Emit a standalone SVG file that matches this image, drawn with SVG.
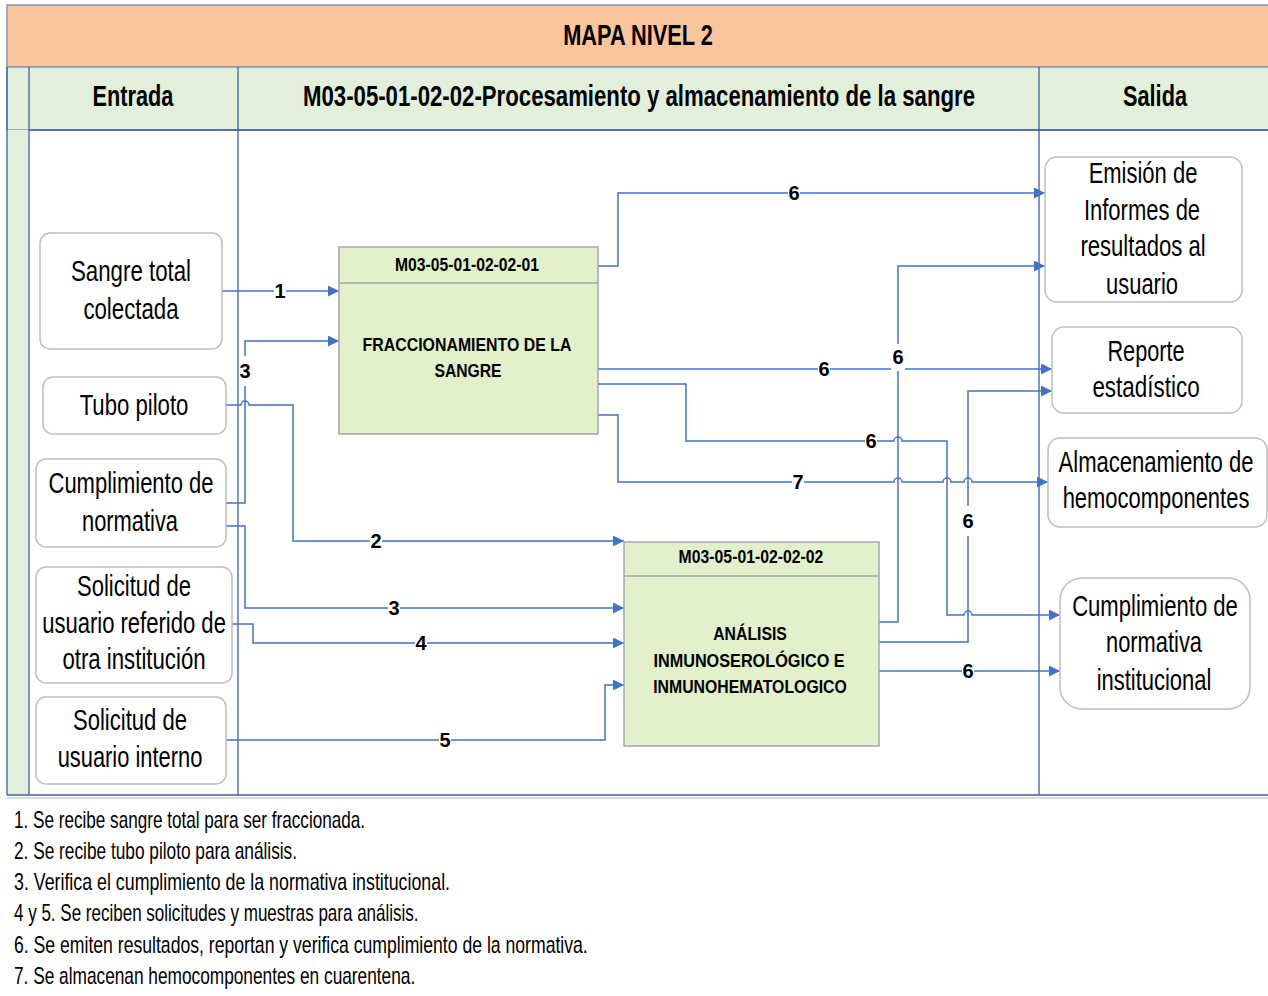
<svg xmlns="http://www.w3.org/2000/svg" width="1268" height="996" viewBox="0 0 1268 996">
<style>
.band{fill:#F8C59D;stroke:#8497B0;stroke-width:1.5}
.hdr{fill:#E2EFDA;stroke:#8497B0;stroke-width:1.5}
.tline{stroke:#3F5FA8;stroke-width:1.3;fill:none}
.node{fill:#FFFFFF;stroke:#BFBFBF;stroke-width:1.5}
.proc{fill:#E2F0CC;stroke:#A6A6A6;stroke-width:1.5}
.t{font-family:"Liberation Sans",Arial,sans-serif;fill:#000;text-anchor:middle}
.nt{font-size:30px}
.ht{font-size:29px;font-weight:bold}
.pt{font-size:19px;font-weight:bold}
.lb{font-size:20px;font-weight:bold}
.note{font-family:"Liberation Sans",Arial,sans-serif;font-size:23px;fill:#000}
.c{fill:none;stroke:#4472C4;stroke-width:1.5}
.lbg{fill:#FFFFFF}
</style>
<defs>
<marker id="ah" markerUnits="userSpaceOnUse" markerWidth="11" markerHeight="11" refX="10" refY="5" orient="auto" viewBox="0 0 10 10">
<path d="M0,0 L10,5 L0,10 z" fill="#4472C4"/>
</marker>
</defs>
<rect x="0" y="0" width="1268" height="996" fill="#FFFFFF"/>
<g id="frame">
<rect class="band" x="7" y="5" width="1264" height="62"/>
<rect class="hdr" x="7" y="67" width="1264" height="63"/>
<rect fill="#E2EFDA" x="7" y="130" width="22" height="665"/>
<line class="tline" x1="7" y1="67" x2="7" y2="795"/>
<line class="tline" x1="29" y1="67" x2="29" y2="795"/>
<line class="tline" x1="238" y1="67" x2="238" y2="795"/>
<line class="tline" x1="1039" y1="67" x2="1039" y2="795"/>
<line class="tline" x1="29" y1="130" x2="1268" y2="130"/>
<line class="tline" x1="7" y1="795" x2="1268" y2="795"/>
<line stroke="#D0D0D0" stroke-width="1.5" x1="7" y1="798" x2="1268" y2="798"/>
<text class="t ht" transform="translate(638,45) scale(0.8,1)" textLength="187" lengthAdjust="spacingAndGlyphs">MAPA NIVEL 2</text>
<text class="t ht" transform="translate(133,106) scale(0.8,1)" textLength="101" lengthAdjust="spacingAndGlyphs">Entrada</text>
<text class="t ht" transform="translate(639,106) scale(0.8,1)" textLength="840" lengthAdjust="spacingAndGlyphs">M03-05-01-02-02-Procesamiento y almacenamiento de la sangre</text>
<text class="t ht" transform="translate(1155,106) scale(0.8,1)" textLength="80" lengthAdjust="spacingAndGlyphs">Salida</text>
</g>
<g id="connectors">
<path class="c" marker-end="url(#ah)" d="M222,291 H339"/>
<path class="c" marker-end="url(#ah)" d="M226,503 H245 V341 H339"/>
<path class="c" marker-end="url(#ah)" d="M226,405 H241 A4,4 0 0 1 249,405 H293 V541 H624"/>
<path class="c" marker-end="url(#ah)" d="M226,526 H245 V608 H624"/>
<path class="c" marker-end="url(#ah)" d="M232,624 H253 V643 H624"/>
<path class="c" marker-end="url(#ah)" d="M226,740 H605 V685 H624"/>
<path class="c" marker-end="url(#ah)" d="M598,266 H618 V193 H1045"/>
<path class="c" marker-end="url(#ah)" d="M598,369 H1052"/>
<path class="c" marker-end="url(#ah)" d="M598,384 H686 V441 H894 A4,4 0 0 1 902,441 H947 V615 H964 A4,4 0 0 1 972,615 H1060"/>
<path class="c" marker-end="url(#ah)" d="M598,415 H618 V482 H894 A4,4 0 0 1 902,482 H943 A4,4 0 0 1 951,482 H964 A4,4 0 0 1 972,482 H1048"/>
<path class="c" marker-end="url(#ah)" d="M879,622 H898 V266 H1045"/>
<path class="c" marker-end="url(#ah)" d="M879,642 H968 V391 H1052"/>
<path class="c" marker-end="url(#ah)" d="M879,671 H1060"/>
<rect class="lbg" x="274" y="282" width="12" height="18"/>
<text class="t lb" x="280" y="298">1</text>
<rect class="lbg" x="239" y="356" width="12" height="30"/>
<text class="t lb" x="245" y="378">3</text>
<rect class="lbg" x="370" y="532" width="12" height="18"/>
<text class="t lb" x="376" y="548">2</text>
<rect class="lbg" x="388" y="599" width="12" height="18"/>
<text class="t lb" x="394" y="615">3</text>
<rect class="lbg" x="415" y="634" width="12" height="18"/>
<text class="t lb" x="421" y="650">4</text>
<rect class="lbg" x="439" y="731" width="12" height="18"/>
<text class="t lb" x="445" y="747">5</text>
<rect class="lbg" x="788" y="184" width="12" height="18"/>
<text class="t lb" x="794" y="200">6</text>
<rect class="lbg" x="818" y="360" width="12" height="18"/>
<text class="t lb" x="824" y="376">6</text>
<rect class="lbg" x="891" y="344" width="14" height="27"/>
<text class="t lb" x="898" y="364">6</text>
<rect class="lbg" x="865" y="432" width="12" height="18"/>
<text class="t lb" x="871" y="448">6</text>
<rect class="lbg" x="792" y="473" width="12" height="18"/>
<text class="t lb" x="798" y="489">7</text>
<rect class="lbg" x="962" y="506" width="12" height="30"/>
<text class="t lb" x="968" y="528">6</text>
<rect class="lbg" x="962" y="662" width="12" height="18"/>
<text class="t lb" x="968" y="678">6</text>
</g>
<g id="in-sangre">
<rect class="node" x="40" y="233" width="182" height="116" rx="10"/>
<text class="t nt" transform="translate(131,281) scale(0.75,1)" textLength="160" lengthAdjust="spacingAndGlyphs">Sangre total</text>
<text class="t nt" transform="translate(131,319) scale(0.75,1)" textLength="127" lengthAdjust="spacingAndGlyphs">colectada</text>
</g>
<g id="in-tubo">
<rect class="node" x="43" y="377" width="183" height="57" rx="10"/>
<text class="t nt" transform="translate(134,415) scale(0.75,1)" textLength="145" lengthAdjust="spacingAndGlyphs">Tubo piloto</text>
</g>
<g id="in-cumplimiento">
<rect class="node" x="36" y="459" width="190" height="88" rx="10"/>
<text class="t nt" transform="translate(131,493) scale(0.75,1)" textLength="220" lengthAdjust="spacingAndGlyphs">Cumplimiento de</text>
<text class="t nt" transform="translate(130,531) scale(0.75,1)" textLength="128" lengthAdjust="spacingAndGlyphs">normativa</text>
</g>
<g id="in-referido">
<rect class="node" x="36" y="567" width="196" height="116" rx="10"/>
<text class="t nt" transform="translate(134,596) scale(0.75,1)" textLength="152" lengthAdjust="spacingAndGlyphs">Solicitud de</text>
<text class="t nt" transform="translate(134,633) scale(0.75,1)" textLength="245" lengthAdjust="spacingAndGlyphs">usuario referido de</text>
<text class="t nt" transform="translate(134,669) scale(0.75,1)" textLength="191" lengthAdjust="spacingAndGlyphs">otra institución</text>
</g>
<g id="in-interno">
<rect class="node" x="36" y="697" width="190" height="87" rx="10"/>
<text class="t nt" transform="translate(130,730) scale(0.75,1)" textLength="152" lengthAdjust="spacingAndGlyphs">Solicitud de</text>
<text class="t nt" transform="translate(130,767) scale(0.75,1)" textLength="193" lengthAdjust="spacingAndGlyphs">usuario interno</text>
</g>
<g id="proc-fraccionamiento">
<rect class="proc" x="339" y="247" width="259" height="187"/>
<line stroke="#A6A6A6" stroke-width="1.5" x1="339" y1="283" x2="598" y2="283"/>
<text class="t pt" transform="translate(467,271) scale(0.8,1)" textLength="180" lengthAdjust="spacingAndGlyphs">M03-05-01-02-02-01</text>
<text class="t pt" transform="translate(467,351) scale(0.8,1)" textLength="261" lengthAdjust="spacingAndGlyphs">FRACCIONAMIENTO DE LA</text>
<text class="t pt" transform="translate(468,377) scale(0.8,1)" textLength="84" lengthAdjust="spacingAndGlyphs">SANGRE</text>
</g>
<g id="proc-analisis">
<rect class="proc" x="624" y="542" width="255" height="204"/>
<line stroke="#A6A6A6" stroke-width="1.5" x1="624" y1="576" x2="879" y2="576"/>
<text class="t pt" transform="translate(751,563) scale(0.8,1)" textLength="181" lengthAdjust="spacingAndGlyphs">M03-05-01-02-02-02</text>
<text class="t pt" transform="translate(750,640) scale(0.8,1)" textLength="92" lengthAdjust="spacingAndGlyphs">ANÁLISIS</text>
<text class="t pt" transform="translate(749,667) scale(0.8,1)" textLength="239" lengthAdjust="spacingAndGlyphs">INMUNOSEROLÓGICO E</text>
<text class="t pt" transform="translate(750,693) scale(0.8,1)" textLength="242" lengthAdjust="spacingAndGlyphs">INMUNOHEMATOLOGICO</text>
</g>
<g id="out-emision">
<rect class="node" x="1045" y="157" width="197" height="145" rx="12"/>
<text class="t nt" transform="translate(1143,183) scale(0.75,1)" textLength="145" lengthAdjust="spacingAndGlyphs">Emisión de</text>
<text class="t nt" transform="translate(1142,220) scale(0.75,1)" textLength="155" lengthAdjust="spacingAndGlyphs">Informes de</text>
<text class="t nt" transform="translate(1143,256) scale(0.75,1)" textLength="167" lengthAdjust="spacingAndGlyphs">resultados al</text>
<text class="t nt" transform="translate(1142,294) scale(0.75,1)" textLength="96" lengthAdjust="spacingAndGlyphs">usuario</text>
</g>
<g id="out-reporte">
<rect class="node" x="1052" y="327" width="190" height="86" rx="12"/>
<text class="t nt" transform="translate(1146,361) scale(0.75,1)" textLength="103" lengthAdjust="spacingAndGlyphs">Reporte</text>
<text class="t nt" transform="translate(1146,397) scale(0.75,1)" textLength="143" lengthAdjust="spacingAndGlyphs">estadístico</text>
</g>
<g id="out-almacenamiento">
<rect class="node" x="1048" y="438" width="219" height="89" rx="12"/>
<text class="t nt" transform="translate(1156,472) scale(0.75,1)" textLength="260" lengthAdjust="spacingAndGlyphs">Almacenamiento de</text>
<text class="t nt" transform="translate(1156,508) scale(0.75,1)" textLength="249" lengthAdjust="spacingAndGlyphs">hemocomponentes</text>
</g>
<g id="out-cumplimiento">
<rect class="node" x="1060" y="578" width="190" height="131" rx="22"/>
<text class="t nt" transform="translate(1155,616) scale(0.75,1)" textLength="221" lengthAdjust="spacingAndGlyphs">Cumplimiento de</text>
<text class="t nt" transform="translate(1154,652) scale(0.75,1)" textLength="128" lengthAdjust="spacingAndGlyphs">normativa</text>
<text class="t nt" transform="translate(1154,690) scale(0.75,1)" textLength="153" lengthAdjust="spacingAndGlyphs">institucional</text>
</g>
<g id="notes">
<text class="note" transform="translate(14,828) scale(0.85,1)" textLength="413" lengthAdjust="spacingAndGlyphs">1. Se recibe sangre total para ser fraccionada.</text>
<text class="note" transform="translate(14,859) scale(0.85,1)" textLength="333" lengthAdjust="spacingAndGlyphs">2. Se recibe tubo piloto para análisis.</text>
<text class="note" transform="translate(14,890) scale(0.85,1)" textLength="513" lengthAdjust="spacingAndGlyphs">3. Verifica el cumplimiento de la normativa institucional.</text>
<text class="note" transform="translate(14,921) scale(0.85,1)" textLength="476" lengthAdjust="spacingAndGlyphs">4 y 5. Se reciben solicitudes y muestras para análisis.</text>
<text class="note" transform="translate(14,953) scale(0.85,1)" textLength="675" lengthAdjust="spacingAndGlyphs">6. Se emiten resultados, reportan y verifica cumplimiento de la normativa.</text>
<text class="note" transform="translate(14,984) scale(0.85,1)" textLength="472" lengthAdjust="spacingAndGlyphs">7. Se almacenan hemocomponentes en cuarentena.</text>
</g>
</svg>
